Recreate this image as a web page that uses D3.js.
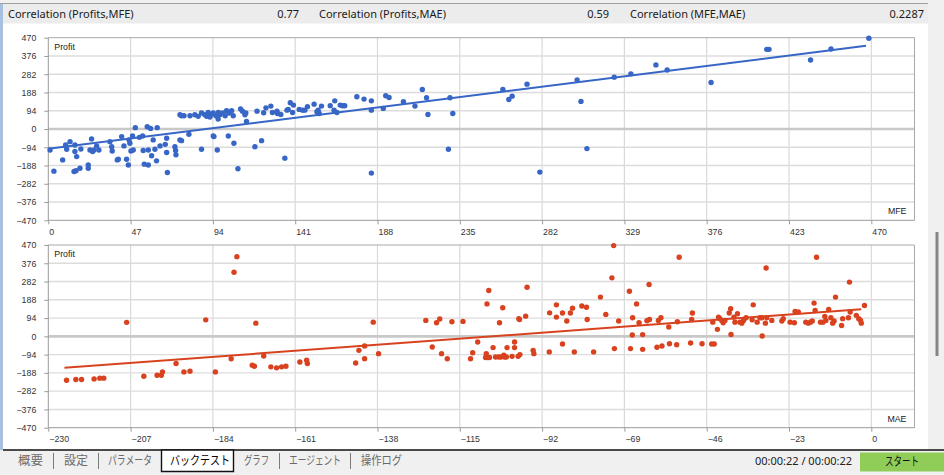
<!DOCTYPE html>
<html>
<head>
<meta charset="utf-8">
<script src="https://cdnjs.cloudflare.com/ajax/libs/d3/7.8.5/d3.min.js"></script>
<style>
html, body { margin: 0; padding: 0; background: #fff; overflow: hidden; }
svg { display: block; }
</style>
</head>
<body>
<svg id="chart" width="944" height="475"></svg>
<script>
// header stats
const headerLabels = ["Correlation (Profits,MFE)", "Correlation (Profits,MAE)", "Correlation (MFE,MAE)"];
const headerValues = ["0.77", "0.59", "0.2287"];

// axis ticks
const profitTicks = [-470, -376, -282, -188, -94, 0, 94, 188, 282, 376, 470];
const mfeTicks = [0, 47, 94, 141, 188, 235, 282, 329, 376, 423, 470];
const maeTicks = [-230, -207, -184, -161, -138, -115, -92, -69, -46, -23, 0];

// [MFE, Profit]
const mfePoints = [
  [1,-108],[3.2,-217],[8.2,-159],[9.9,-82],[10.5,-104],[12.4,-65],[15.2,-82],[15.2,-116],[16.2,-142],[14.7,-219],
  [15.8,-215],[18.1,-202],[18.6,-103],[22.8,-185],[22.8,-202],[24.7,-51],[23.8,-108],[25.3,-116],[26.1,-108],[27.6,-87],
  [28.9,-108],[35.2,-65],[36.2,-91],[36.5,-113],[39.4,-159],[40,-156],[41.9,-39],[43.2,-87],[44.7,-156],[45.7,-185],
  [46.1,-56],[46.6,-73],[48.1,-36],[47.2,-113],[48.5,-108],[49.7,7],[52,-43],[53.9,-36],[54.2,-111],[54.8,-181],
  [57.1,-185],[56.5,12],[57.1,-108],[58.4,3],[59,-138],[59.9,-56],[60.9,-104],[61.8,-164],[62.2,7],[63.8,-87],
  [66.8,-79],[67.6,-48],[67.6,-121],[68,-224],[72.3,-91],[72.9,-133],[72.7,-111],[75.2,-56],[76.1,-60],[80.3,-27],
  [87.5,-104],[94.2,-36],[94.6,-39],[96.5,-108],[102.8,-36],[106,-73],[108.3,-205],[118,-91],[121.8,-60],[135.1,-150],
  [184.5,-227],[228.5,-104],[280.7,-222],[307.6,-101],
  [75.2,73],[76.1,68],[77.5,68],[80.9,68],[83.7,73],[85.6,65],[87.5,82],[89.4,73],[91.3,85],[92.7,73],
  [94.2,82],[95.7,68],[97.1,85],[98,73],[99.5,82],[101,68],[101.8,94],[103.3,82],[104.7,94],[105.6,68],
  [97,51],[90.4,65],[92.3,62],[109.8,103],[110.9,91],[112.3,73],[112.8,82],[113.2,39],[119.2,92],[123,84],
  [124.3,109],[127.1,118],[128,85],[130.6,92],[130.9,80],[132.8,75],[136.3,97],[137,101],[138.2,135],[140,123],
  [139.5,85],[143.3,101],[145.2,97],[146.5,97],[148,115],[151.8,128],[153.4,89],[154.1,97],[154.7,80],[156,118],
  [161,120],[163.6,145],[163.2,97],[164.8,85],[166.7,123],[168,120],[169.3,120],[176.2,166],[180.3,154],[184.5,145],
  [184.5,97],[191.3,106],[192.7,171],[194.6,162],[202.8,140],[209.4,118],[213.6,203],[216,161],[216.8,75],[229.4,161],
  [231,80],[259.6,203],[263,152],[264.9,169],[273.4,231],[302,253],[304.2,142],[323.2,267],[332.7,284],[347,330],
  [353.4,304],[378.5,239],[410.3,410],[411.6,410],[435.3,355],[447,412],[468.6,467]
];

// [MAE, Profit]
const maePoints = [
  [-224.9,-226],[-222.3,-222],[-220.7,-222],[-217.2,-219],[-215.6,-215],[-214.5,-215],[-208.1,72],[-203.3,-205],[-199.6,-200],[-198.4,-200],
  [-198.1,-183],[-194.3,-140],[-192.1,-183],[-190.4,-179],[-186,85],[-183.3,-183],[-178.9,-115],[-178.1,330],[-177.3,410],[-173,-149],
  [-172.4,-154],[-172,68],[-169.8,-101],[-167.8,-157],[-166.2,-162],[-164.8,-157],[-163.6,-154],[-159.7,-132],[-157.8,-123],[-157.6,-140],
  [-144.1,-137],[-143.2,-72],[-141.6,-115],[-141.6,-50],[-139.2,73],[-137.7,-89],[-124.5,82],[-122.7,-55],[-121.5,70],[-120.6,89],
  [-120.1,-89],[-118.5,-115],[-117.2,75],[-114.1,77],[-112,-115],[-111.4,-84],[-110,-29],[-107.4,167],[-106.9,236],[-107.6,-89],
  [-107.8,-109],[-107.2,-109],[-106.7,-109],[-105.7,-58],[-105,-106],[-104.1,-106],[-103.5,-106],[-102.7,-97],[-102.5,-106],[-102,-106],
  [-101.8,-58],[-100.4,-103],[-99.7,-58],[-99.7,-29],[-98.7,-103],[-98.2,-94],[-103.9,70],[-103,147],[-98.5,91],[-98.3,87],
  [-96.6,104],[-96.2,253],[-94.5,-72],[-94.3,-89],[-90,-80],[-89.9,121],[-88,162],[-88,99],[-86.3,120],[-86.3,-39],
  [-85.1,79],[-84.1,120],[-83.5,145],[-83,-80],[-80.9,156],[-79.6,150],[-79.4,87],[-77.6,-80],[-75.7,202],[-74.2,113],
  [-72.5,301],[-72,467],[-71.8,-63],[-70.6,79],[-67.6,232],[-67.3,-63],[-66.7,96],[-66.8,7],[-65.6,167],[-64.9,70],
  [-63.9,9],[-63.9,-67],[-62.7,80],[-62,87],[-62.1,267],[-59.9,-56],[-59.5,82],[-58.8,96],[-58.5,-50],[-56.6,48],
  [-56.4,-38],[-54.4,-43],[-54.2,75],[-53.7,407],[-50.5,-34],[-50.2,87],[-50,120],[-47.3,-38],[-44.6,-39],[-43.9,-39],
  [-44.3,73],[-43,36],[-42.7,99],[-42.3,91],[-41.8,82],[-41.4,70],[-40.9,82],[-39.7,120],[-39.3,142],[-39.2,10],
  [-38.4,99],[-38.1,73],[-37.4,116],[-36.7,73],[-36.2,68],[-35.7,82],[-35,96],[-33.3,85],[-33,162],[-31.9,73],
  [-31.1,96],[-30.6,96],[-30.5,2],[-29.6,68],[-29.4,352],[-29.2,96],[-27.8,82],[-25,79],[-24.6,91],[-22.7,73],
  [-21.5,70],[-21.3,128],[-20.4,125],[-18.3,73],[-17.6,68],[-17,73],[-16.5,79],[-16,171],[-15.7,133],[-15.3,407],
  [-14.2,73],[-13.5,73],[-13,103],[-12.7,82],[-11.9,138],[-11.3,96],[-10.8,68],[-10.4,79],[-10,202],[-8.3,56],
  [-8,91],[-6.4,96],[-5.9,125],[-6.1,279],[-4.2,108],[-3.5,91],[-3,82],[-2.8,68],[-1.9,159]
];

// regression lines (end points)
const mfeFitX = [0, 467], mfeFitY = [-102, 428];
const maeFitX = [-225.5, -2.8], maeFitY = [-162, 140];

// bottom bar
const tabs = ["概要", "設定", "パラメータ", "バックテスト", "グラフ", "エージェント", "操作ログ"];
const activeTab = 3;
const timerText = "00:00:22 / 00:00:22";
const startLabel = "スタート";

const svg = d3.select("#chart");
const W = 944, H = 475;
const plotL = 48.3, plotR = 914.5, tickR = 871.3;
const tickFont = "'Liberation Sans', Arial, sans-serif";

// background parts
svg.append("rect").attr("x", 0).attr("y", 0).attr("width", W).attr("height", H).attr("fill", "#ffffff");
svg.append("rect").attr("x", 0).attr("y", 0).attr("width", W).attr("height", 3).attr("fill", "#f0f0f0");
svg.append("rect").attr("x", 928).attr("y", 0).attr("width", 16).attr("height", 450).attr("fill", "#f0f0f0");
svg.append("rect").attr("x", 0).attr("y", 3).attr("width", 3).attr("height", 447).attr("fill", "#a8c0df");
svg.append("rect").attr("x", 3).attr("y", 3.5).attr("width", 925).attr("height", 20).attr("fill", "#ececec");
svg.append("line").attr("x1", 0).attr("x2", 928).attr("y1", 3.5).attr("y2", 3.5).attr("stroke", "#a0a0a0").attr("stroke-width", 1);
svg.append("rect").attr("x", 935.5).attr("y", 232).attr("width", 3).attr("height", 124).attr("fill", "#858585");

// header
const headerX = [8, 319, 630], headerValX = [299, 609, 924];
headerLabels.forEach((t, i) => {
  svg.append("text").attr("x", headerX[i]).attr("y", 18).text(t)
    .attr("font-family", "'Noto Sans', sans-serif").attr("font-size", 11).attr("fill", "#1a1a1a");
  svg.append("text").attr("x", headerValX[i]).attr("y", 18).text(headerValues[i]).attr("text-anchor", "end")
    .attr("font-family", "'Noto Sans', sans-serif").attr("font-size", 11).attr("fill", "#1a1a1a");
});

function panel(top, bottom, xTicks, points, fitX, fitY, xName, color) {
  const g = svg.append("g");
  const x = d3.scaleLinear().domain([xTicks[0], xTicks[xTicks.length - 1]]).range([plotL, tickR]);
  const y = d3.scaleLinear().domain([-470, 470]).range([bottom, top]);

  // grid
  g.append("g").selectAll("line").data(xTicks.slice(1)).join("line")
    .attr("x1", d => x(d)).attr("x2", d => x(d)).attr("y1", top).attr("y2", bottom)
    .attr("stroke", "#d9d9d9").attr("stroke-width", 1.2);
  g.append("g").selectAll("line").data(profitTicks.slice(1, -1)).join("line")
    .attr("x1", plotL).attr("x2", plotR).attr("y1", d => y(d)).attr("y2", d => y(d))
    .attr("stroke", d => d === 0 ? "#c8c8c8" : "#dcdcdc").attr("stroke-width", d => d === 0 ? 2.6 : 1.4);

  // frame
  g.append("line").attr("x1", plotL).attr("x2", plotR).attr("y1", top).attr("y2", top).attr("stroke", "#a8a8a8");
  g.append("line").attr("x1", plotR).attr("x2", plotR).attr("y1", top).attr("y2", bottom).attr("stroke", "#a8a8a8");

  // axes
  const ya = g.append("g").attr("transform", `translate(${plotL},0)`)
    .call(d3.axisLeft(y).tickValues(profitTicks).tickSize(4).tickSizeOuter(0).tickPadding(8));
  const xa = g.append("g").attr("transform", `translate(0,${bottom})`)
    .call(d3.axisBottom(x).tickValues(xTicks).tickSize(4).tickSizeOuter(0).tickPadding(4));
  [ya, xa].forEach(a => {
    a.select(".domain").attr("stroke", "#9a9a9a");
    a.selectAll(".tick line").attr("stroke", "#9a9a9a");
    a.selectAll("text").attr("font-family", tickFont).attr("font-size", 8.8).attr("fill", "#333");
  });
  ya.select(".domain").attr("d", `M0,${top}V${bottom}`);
  xa.select(".domain").attr("d", `M${plotL},0H${plotR}`);
  xa.selectAll("text").attr("text-anchor", "start").attr("dx", 0.5);

  // regression line
  g.append("line")
    .attr("x1", x(fitX[0])).attr("y1", y(fitY[0])).attr("x2", x(fitX[1])).attr("y2", y(fitY[1]))
    .attr("stroke", color).attr("stroke-width", 2);

  // points
  g.append("g").selectAll("circle").data(points).join("circle")
    .attr("cx", d => x(d[0])).attr("cy", d => y(d[1])).attr("r", 2.7).attr("fill", color);

  // labels
  g.append("text").attr("x", plotL + 6).attr("y", top + 12).text("Profit")
    .attr("font-family", tickFont).attr("font-size", 8.8).attr("fill", "#222");
  g.append("text").attr("x", plotR - 8).attr("y", bottom - 6).text(xName).attr("text-anchor", "end")
    .attr("font-family", tickFont).attr("font-size", 8.8).attr("fill", "#222");
}

panel(37.7, 220.3, mfeTicks, mfePoints, mfeFitX, mfeFitY, "MFE", "#3766c6");
panel(245, 427.7, maeTicks, maePoints, maeFitX, maeFitY, "MAE", "#d8421f");

// bottom tab bar
svg.append("rect").attr("x", 0).attr("y", 450).attr("width", W).attr("height", 25).attr("fill", "#f0f0f0");
svg.append("line").attr("x1", 3).attr("x2", W).attr("y1", 450).attr("y2", 450).attr("stroke", "#111").attr("stroke-width", 1.6);
svg.append("path").attr("d", "M161.5,450V471.5H233.5V450Z").attr("fill", "#ffffff").attr("stroke", "#111").attr("stroke-width", 1.4);
const tabX = [18, 64, 108, 170, 244, 289, 361], tabW = [25, 24, 44, 60, 25, 52, 41];
const sepX = [53.5, 98.5, 279.5, 350.5];
tabs.forEach((t, i) => {
  svg.append("text").attr("x", tabX[i]).attr("y", 465).text(t)
    .attr("textLength", tabW[i]).attr("lengthAdjust", "spacingAndGlyphs")
    .attr("font-family", "'Noto Sans CJK JP', sans-serif").attr("font-size", 12)
    .attr("fill", i === activeTab ? "#000" : "#6a6a6a");
});
sepX.forEach(s => svg.append("line").attr("x1", s).attr("x2", s).attr("y1", 453).attr("y2", 469).attr("stroke", "#7a7a7a"));
svg.append("text").attr("x", 852).attr("y", 465).attr("text-anchor", "end").text(timerText)
  .attr("font-family", "'Noto Sans', sans-serif").attr("font-size", 11).attr("fill", "#222");
svg.append("rect").attr("x", 860).attr("y", 452.5).attr("width", 84).attr("height", 19).attr("fill", "#8fcd58");
svg.append("text").attr("x", 885).attr("y", 466).text(startLabel)
  .attr("textLength", 34).attr("lengthAdjust", "spacingAndGlyphs")
  .attr("font-family", "'Noto Sans CJK JP', sans-serif").attr("font-size", 12).attr("fill", "#111");
</script>
</body>
</html>
